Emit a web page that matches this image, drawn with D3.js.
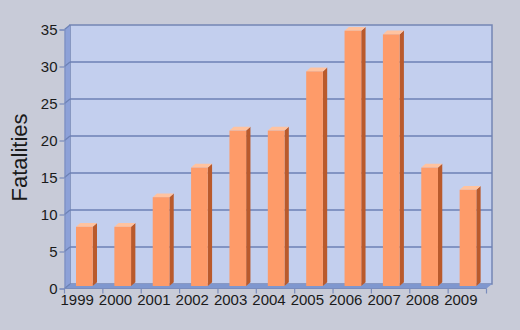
<!DOCTYPE html>
<html><head><meta charset="utf-8">
<script src="https://cdn.jsdelivr.net/npm/d3@7"></script>
<style>html,body{margin:0;padding:0;background:#c8cbd8;}svg{display:block;}</style>
</head><body>
<script>
const years = ["1999","2000","2001","2002","2003","2004","2005","2006","2007","2008","2009"];
const fatalities = [8, 8, 12, 16, 21, 21, 29, 34.5, 34, 16, 13];
const yTicks = [0, 5, 10, 15, 20, 25, 30, 35];
const yTitle = "Fatalities";

const W = 520, H = 330;
const svg = d3.select("body").append("svg").attr("width", W).attr("height", H);
svg.append("rect").attr("width", W).attr("height", H).attr("fill", "#c8cbd8");

// front plane geometry
const dx = 5.5, dy = -4.5; // depth offset to back plane
const x = d3.scaleBand().domain(years).range([64.5, 486.5]).paddingInner(0).paddingOuter(0);
const y = d3.scaleLinear().domain([0, 35]).range([288.5, 29.5]);
const x0 = x.range()[0], x1 = x.range()[1];

// back wall
svg.append("rect").attr("x", x0 + dx).attr("y", y(35) + dy)
  .attr("width", x1 - x0).attr("height", y(0) - y(35))
  .attr("fill", "#c3cfee").attr("stroke", "#7486b4").attr("stroke-width", 1.5);
// left wall
svg.append("path")
  .attr("d", `M${x0},${y(35)} L${x0+dx},${y(35)+dy} L${x0+dx},${y(0)+dy} L${x0},${y(0)} Z`)
  .attr("fill", "#8da1d8");
// floor
svg.append("path")
  .attr("d", `M${x0},${y(0)} L${x0+dx},${y(0)+dy} L${x1+dx},${y(0)+dy} L${x1},${y(0)} Z`)
  .attr("fill", "#7f97cf");

// gridlines on back wall and left wall
const grid = svg.append("g");
yTicks.forEach(t => {
  if (t > 0 && t < 35) {
    grid.append("line").attr("x1", x0 + dx).attr("x2", x1 + dx)
      .attr("y1", y(t) + dy).attr("y2", y(t) + dy)
      .attr("stroke", "#6c81b5").attr("stroke-width", 1.6);
  }
  grid.append("line").attr("x1", x0).attr("x2", x0 + dx)
    .attr("y1", y(t)).attr("y2", y(t) + dy)
    .attr("stroke", "#6c81b5").attr("stroke-width", 1.2);
});

// y axis ticks + labels
const yAxis = d3.axisLeft(y).tickValues(yTicks).tickSize(5).tickPadding(2);
const ya = svg.append("g").attr("transform", `translate(${x0},0)`).call(yAxis);
ya.select(".domain").attr("stroke", "#7a8cbc").attr("stroke-width", 1);
ya.selectAll(".tick line").attr("stroke", "#7a8cbc").attr("stroke-width", 1.2);
ya.selectAll(".tick text").attr("font-family", "'Liberation Sans', Arial, sans-serif")
  .attr("font-size", 15).attr("fill", "#1a1a1a");

// x axis ticks (at band boundaries) + labels
const xa = svg.append("g");
const edges = years.map(d => x(d)).concat([x1]);
edges.forEach(e => {
  xa.append("line").attr("x1", e).attr("x2", e).attr("y1", y(0)).attr("y2", y(0) + 5)
    .attr("stroke", "#7a8cbc").attr("stroke-width", 1.2);
});
xa.append("line").attr("x1", x0).attr("x2", x1).attr("y1", y(0)).attr("y2", y(0))
  .attr("stroke", "#7a8cbc").attr("stroke-width", 1);
xa.selectAll("text").data(years).join("text")
  .attr("x", d => x(d) + x.bandwidth() / 2 - 6.5)
  .attr("y", 305)
  .attr("text-anchor", "middle")
  .attr("font-family", "'Liberation Sans', Arial, sans-serif")
  .attr("font-size", 15).attr("fill", "#1a1a1a")
  .text(d => d);

// bars (3D)
const bOff = 11.5, bW = 16.7, bdx = 4.3, bdy = -3.8, bShift = -2.5;
const bars = svg.append("g");
years.forEach((yr, i) => {
  const v = fatalities[i];
  const bx = x(yr) + bOff;
  const top = y(v) + bShift, bot = y(0) + bShift;
  // side
  bars.append("path")
    .attr("d", `M${bx+bW},${top} L${bx+bW+bdx},${top+bdy} L${bx+bW+bdx},${bot+bdy} L${bx+bW},${bot} Z`)
    .attr("fill", "#b95a2c");
  // top
  bars.append("path")
    .attr("d", `M${bx},${top} L${bx+bdx},${top+bdy} L${bx+bW+bdx},${top+bdy} L${bx+bW},${top} Z`)
    .attr("fill", "#ffc3a0");
  // front
  bars.append("rect").attr("x", bx).attr("y", top).attr("width", bW).attr("height", bot - top)
    .attr("fill", "#fe9b69");
});

// y title
svg.append("text")
  .attr("transform", "translate(27,157.5) rotate(-90)")
  .attr("text-anchor", "middle")
  .attr("font-family", "'Liberation Sans', Arial, sans-serif")
  .attr("font-size", 22).attr("fill", "#1a1a1a")
  .text(yTitle);
</script>
</body></html>
